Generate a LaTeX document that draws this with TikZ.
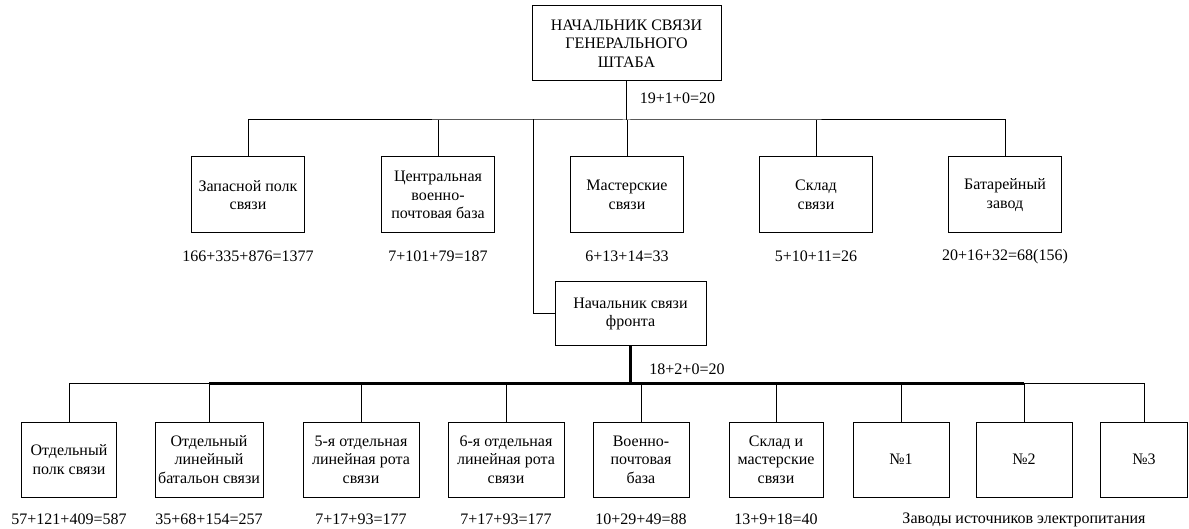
\documentclass[tikz,border=0pt]{standalone}
\usepackage{fontspec}
\setmainfont{Liberation Serif}
\usetikzlibrary{positioning}

\begin{document}
\begin{tikzpicture}[x=1pt,y=-1pt,
  unit/.style={draw,line width=1pt,align=center,inner sep=1pt,
               minimum height=76pt,font=\fontsize{16}{18.5}\selectfont},
  figs/.style={font=\fontsize{16}{18.5}\selectfont,inner sep=1pt},
  link/.style={draw,line width=1pt},
  mainlink/.style={draw,line width=2.4pt}]
  \useasboundingbox (0,0) rectangle (1189,529);

  % general staff
  \node[unit,minimum width=189pt,minimum height=75pt] (gs) at (626.5,43.5)
    {НАЧАЛЬНИК СВЯЗИ\\ГЕНЕРАЛЬНОГО\\ШТАБА};
  \node[figs] (gsn) at (677.5,98) {19+1+0=20};

  \node[unit,minimum width=113pt] (zp) at (248,195) {Запасной полк\\связи};
  \node[unit,minimum width=113pt] (cb) at (438,195) {Центральная\\военно-\\почтовая база};
  \node[unit,minimum width=113pt] (ms) at (627,195) {Мастерские\\связи};
  \node[unit,minimum width=113pt] (sk) at (816,195) {Склад\\связи};
  \node[unit,minimum width=113pt] (bz) at (1005,195) {Батарейный\\завод};
  \node[figs] (zpn) at ([yshift=-23pt]zp.south) {166+335+876=1377};
  \node[figs] (cbn) at ([yshift=-23pt]cb.south) {7+101+79=187};
  \node[figs] (msn) at ([yshift=-23pt]ms.south) {6+13+14=33};
  \node[figs] (skn) at ([yshift=-23pt]sk.south) {5+10+11=26};
  \node[figs] (bzn) at ([yshift=-23pt]bz.south) {20+16+32=68(156)};

  \coordinate (ub) at ([yshift=-38.5pt]gs.south);
  \draw[link] (gs.south) -- (ub);
  \draw[link] (zp.north) |- (ub) -| (bz.north);
  \foreach \n in {cb,ms,sk}
    \draw[link] (\n.north) -- (\n.north |- ub);

  % front
  \node[unit,minimum width=151pt,minimum height=64pt] (fr) at (630.5,314)
    {Начальник связи\\фронта};
  \node[figs] (frn) at (687,369) {18+2+0=20};
  \coordinate (tap) at (533,119.5);
  \draw[link] (tap) |- (fr.west);

  \node[unit,minimum width=95pt,minimum height=75pt] (b1) at (69,459.5) {Отдельный\\полк связи};
  \node[unit,minimum width=108pt,minimum height=75pt] (b2) at (209,459.5) {Отдельный\\линейный\\батальон связи};
  \node[unit,minimum width=116pt,minimum height=75pt] (b3) at (361,459.5) {5-я отдельная\\линейная рота\\связи};
  \node[unit,minimum width=116pt,minimum height=75pt] (b4) at (506,459.5) {6-я отдельная\\линейная рота\\связи};
  \node[unit,minimum width=96pt,minimum height=75pt] (b5) at (641,459.5) {Военно-\\почтовая\\база};
  \node[unit,minimum width=94pt,minimum height=75pt] (b6) at (776,459.5) {Склад и\\мастерские\\связи};
  \node[unit,minimum width=96pt,minimum height=75pt] (b7) at (901,459.5) {№1};
  \node[unit,minimum width=96pt,minimum height=75pt] (b8) at (1024,459.5) {№2};
  \node[unit,minimum width=87pt,minimum height=75pt] (b9) at (1144,459.5) {№3};

  \node[figs] (b1n) at ([yshift=-22pt]b1.south) {57+121+409=587};
  \node[figs] (b2n) at ([yshift=-22pt]b2.south) {35+68+154=257};
  \node[figs] (b3n) at ([yshift=-22pt]b3.south) {7+17+93=177};
  \node[figs] (b4n) at ([yshift=-22pt]b4.south) {7+17+93=177};
  \node[figs] (b5n) at ([yshift=-22pt]b5.south) {10+29+49=88};
  \node[figs] (b6n) at ([yshift=-22pt]b6.south) {13+9+18=40};
  \node[figs] (zav) at ([yshift=-22pt]b8.south) {Заводы источников электропитания};

  \coordinate (lb) at ([yshift=-37pt]fr.south);
  \draw[link] (b1.north) |- (lb) -| (b9.north);
  \draw[mainlink] (b2.north |- lb) -- (b8.north |- lb);
  \draw[mainlink] (fr.south) -- (lb);
  \foreach \n in {b2,b3,b4,b5,b6,b7,b8}
    \draw[link] (\n.north) -- (\n.north |- lb);
\end{tikzpicture}
\end{document}
